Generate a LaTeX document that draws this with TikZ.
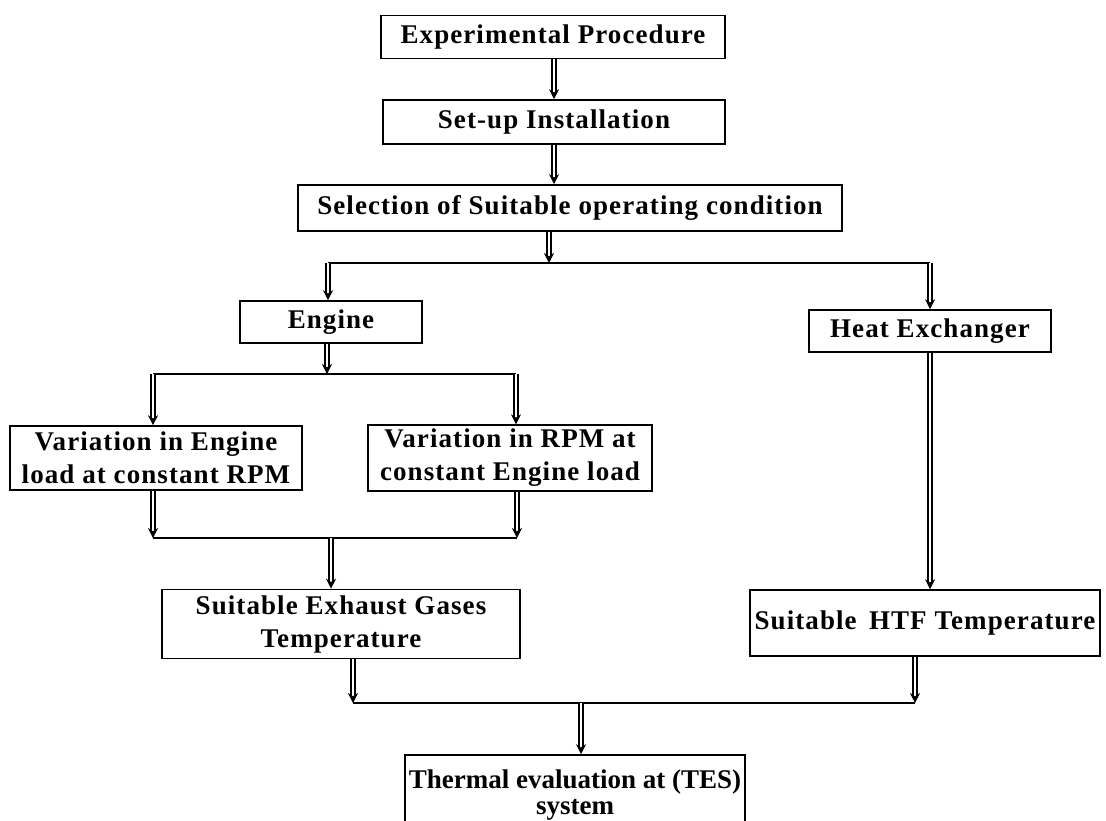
\documentclass[tikz,border=0pt]{standalone}
\usepackage{fontspec}
\setmainfont{Liberation Serif}[LetterSpace=4]
\usepackage{tikz}
\usetikzlibrary{calc, positioning, arrows.meta}
\tikzstyle{blk}=[inner sep=2pt, draw, shape=rectangle, line width=0.8pt, align=center, font=\fontsize{13.5}{16.5}\selectfont\bfseries]
\tikzstyle{dbl}=[double, double distance=1.4pt, line width=0.6pt, -{Stealth[length=5pt, width=5pt]}]
\tikzstyle{bar}=[line width=0.75pt]
\tikzset{>=stealth}

\begin{document}
\begin{tikzpicture}[x=0.5pt, y=-0.5pt]
\useasboundingbox (0,0) rectangle (1106,820);
\node[blk, minimum width=172pt, minimum height=21.5pt] (exp) at (553,37) {Experimental Procedure};
\node[blk, minimum width=171pt, minimum height=22pt] (setup) at (554,122) {Set-up Installation};
\node[blk, minimum width=272pt, minimum height=23pt] (sel) at (570,208) {Selection of Suitable operating condition};
\node[blk, minimum width=91pt, minimum height=21pt] (eng) at (331,322) {Engine};
\node[blk, minimum width=121pt, minimum height=21pt] (hx) at (930,331) {Heat Exchanger};
\node[blk, minimum width=146pt, minimum height=32pt] (vl) at (156,458) {Variation in Engine\\load at constant RPM};
\node[blk, minimum width=142pt, minimum height=32pt] (vr) at (510,458) {Variation in RPM at\\constant Engine load};
\node[blk, minimum width=179pt, minimum height=34.5pt] (exh) at (341,624) {Suitable Exhaust Gases\\Temperature};
\node[blk, minimum width=175pt, minimum height=33pt] (htf) at (925,623) {Suitable\, HTF Temperature};
\node[blk, minimum width=170pt, minimum height=40pt, font=\fontsize{13.5}{16}\selectfont\bfseries\addfontfeatures{LetterSpace=0}] (th) at (575,795) {Thermal evaluation at (TES)\\[-3pt]system};
%
\coordinate (b1l) at (328,263);
\coordinate (b1m) at (549,263);
\coordinate (b1r) at (930,263);
\coordinate (b2l) at (153,374);
\coordinate (b2m) at (327,374);
\coordinate (b2r) at (516,374);
\coordinate (b3l) at (153,538);
\coordinate (b3m) at (331,538);
\coordinate (b3r) at (517,538);
\coordinate (b4l) at (353,703);
\coordinate (b4m) at (581,703);
\coordinate (b4r) at (915,703);
%
\draw[dbl] (exp.south -| setup.north) -- (setup.north);
\draw[dbl] (setup.south) -- (sel.north -| setup.south);
\draw[dbl] (sel.south -| b1m) -- (b1m);
\draw[bar] (b1l) -- (b1r);
\draw[dbl] (b1l) -- (eng.north -| b1l);
\draw[dbl] (b1r) -- (hx.north -| b1r);
\draw[dbl] (eng.south -| b2m) -- (b2m);
\draw[bar] (b2l) -- (b2r);
\draw[dbl] (b2l) -- (vl.north -| b2l);
\draw[dbl] (b2r) -- (vr.north -| b2r);
\draw[dbl] (vl.south -| b3l) -- (b3l);
\draw[dbl] (vr.south -| b3r) -- (b3r);
\draw[bar] (b3l) -- (b3r);
\draw[dbl] (b3m) -- (exh.north -| b3m);
\draw[dbl] (hx.south) -- (htf.north -| hx.south);
\draw[dbl] (exh.south -| b4l) -- (b4l);
\draw[dbl] (htf.south -| b4r) -- (b4r);
\draw[bar] (b4l) -- (b4r);
\draw[dbl] (b4m) -- (th.north -| b4m);
\end{tikzpicture}
\end{document}
